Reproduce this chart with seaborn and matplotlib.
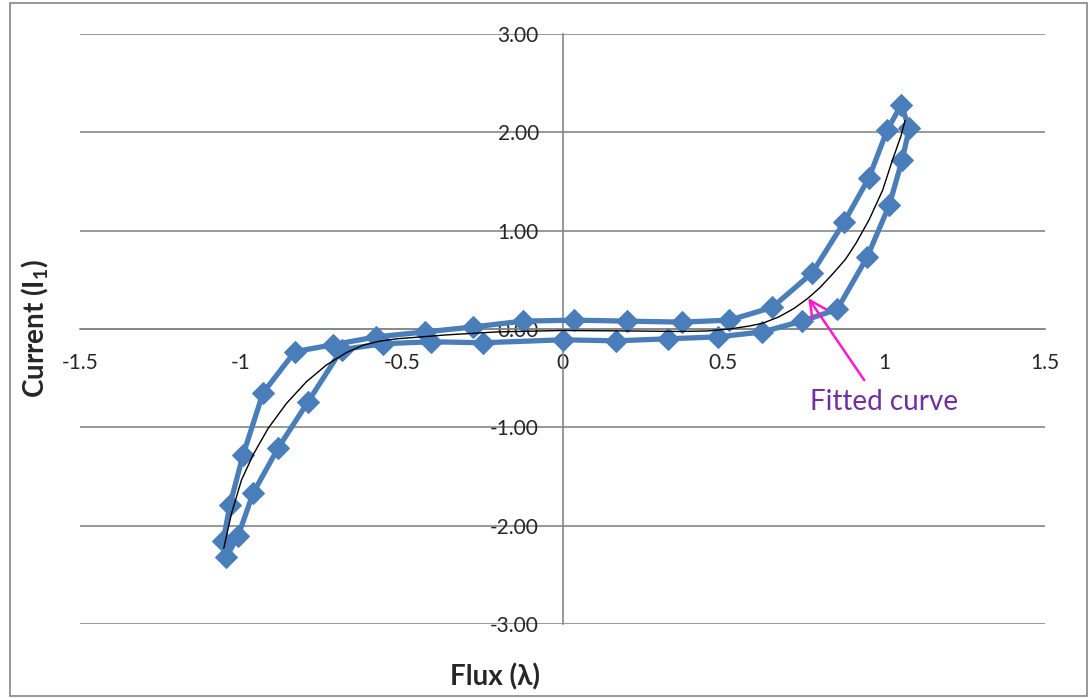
import matplotlib
matplotlib.use("Agg")
import matplotlib.pyplot as plt
import seaborn as sns
from matplotlib.patches import Rectangle

# loop data: upper branch left->right, then lower branch right->left
loop_x = [-1.055, -1.034, -0.993, -0.931, -0.832, -0.713, -0.579, -0.429, -0.279, -0.124,
          0.037, 0.202, 0.370, 0.519, 0.652, 0.776, 0.876, 0.953, 1.009, 1.053,
          1.078, 1.056, 1.016, 0.947, 0.854, 0.745, 0.621, 0.483, 0.327, 0.167,
          0.000, -0.248, -0.408, -0.558, -0.687, -0.791, -0.884, -0.962, -1.008, -1.045]
loop_y = [-2.16, -1.79, -1.28, -0.65, -0.23, -0.16, -0.08, -0.03, 0.02, 0.08,
          0.09, 0.08, 0.07, 0.09, 0.22, 0.57, 1.09, 1.54, 2.02, 2.28,
          2.04, 1.72, 1.26, 0.73, 0.20, 0.08, -0.03, -0.08, -0.10, -0.12,
          -0.11, -0.14, -0.13, -0.15, -0.21, -0.74, -1.21, -1.67, -2.10, -2.32]

# fitted curve
fit_x = [-1.053, -1.029, -0.998, -0.962, -0.915, -0.858, -0.796, -0.734, -0.672, -0.620,
         -0.570, -0.516, -0.361, -0.206, 0.0, 0.208, 0.363, 0.450, 0.519, 0.580,
         0.622, 0.674, 0.720, 0.762, 0.800, 0.840, 0.880, 0.912, 0.953, 0.995,
         1.026, 1.052, 1.065]
fit_y = [-2.23, -1.875, -1.536, -1.28, -1.01, -0.756, -0.536, -0.366, -0.24, -0.165,
         -0.125, -0.10, -0.06, -0.03, -0.015, -0.02, -0.025, -0.02, 0.0, 0.03,
         0.058, 0.125, 0.21, 0.31, 0.42, 0.56, 0.71, 0.87, 1.11, 1.41,
         1.72, 1.96, 2.12]

x_ticks = [-1.5, -1, -0.5, 0, 0.5, 1, 1.5]
x_labels = ["-1.5", "-1", "-0.5", "0", "0.5", "1", "1.5"]
y_ticks = [-3, -2, -1, 0, 1, 2, 3]
y_labels = ["-3.00", "-2.00", "-1.00", "0.00", "1.00", "2.00", "3.00"]

sns.set_style("white")
plt.rcParams["font.family"] = ["Lato", "DejaVu Sans"]
plt.rcParams["axes.unicode_minus"] = False
plt.rcParams["mathtext.fontset"] = "custom"
plt.rcParams["mathtext.rm"] = "Lato"
plt.rcParams["mathtext.bf"] = "Lato:bold"

grey = "#868686"
blue = "#4A7EBB"

fig = plt.figure(figsize=(10.9, 6.98), dpi=100)
ax = fig.add_axes([80 / 1090, 74 / 698, 965 / 1090, 590 / 698])

# gridlines under the data
for yv in y_ticks:
    ax.axhline(yv, color=grey, lw=1.2, zorder=0.5)

sns.lineplot(x=loop_x, y=loop_y, sort=False, estimator=None, ax=ax, color=blue,
             lw=3.8, marker="D", markersize=11, markeredgecolor=blue, zorder=2)
sns.lineplot(x=fit_x, y=fit_y, sort=False, estimator=None, ax=ax, color="black",
             lw=1.0, zorder=3)

ax.set_xlim(-1.5, 1.5)
ax.set_ylim(-3, 3)
ax.set_xticks(x_ticks)
ax.set_xticklabels(x_labels)
ax.set_yticks(y_ticks)
ax.set_yticklabels(y_labels)

for s in ["top", "right"]:
    ax.spines[s].set_visible(False)
ax.spines["left"].set_position(("data", 0))
ax.spines["bottom"].set_position(("data", 0))
for s in ["left", "bottom"]:
    ax.spines[s].set_color(grey)
    ax.spines[s].set_linewidth(1.2)
    ax.spines[s].set_zorder(1)

ax.tick_params(axis="x", direction="out", length=5, width=1.2, color=grey,
               pad=12, labelsize=15)
ax.tick_params(axis="y", length=0, pad=17, labelsize=15)
ax.set_xlabel("")
ax.set_ylabel("")

# annotation
ax.annotate("", xy=(0.764, 0.315), xytext=(0.938, -0.52),
            arrowprops=dict(arrowstyle="->,head_length=0.6,head_width=0.3",
                            color="#FF19CC", lw=1.8, mutation_scale=20,
                            shrinkA=0, shrinkB=0))
ax.text(1.0, -0.74, "Fitted curve", color="#7030A0", fontsize=20,
        ha="center", va="center")

fig.text(35 / 1090, 1 - 328 / 698, r"Current (I$_\mathbf{1}$)", rotation=90,
         ha="center", va="center", fontsize=20, fontweight="bold")
fig.text(495 / 1090, 1 - 677 / 698, "Flux (λ)", ha="center", va="center",
         fontsize=20, fontweight="bold", family=["Lato", "DejaVu Sans"])

fig.patches.append(Rectangle((10 / 1090, 2 / 698), 1077 / 1090, 693 / 698,
                             transform=fig.transFigure, fill=False,
                             edgecolor=grey, lw=1.2))

fig.savefig("out.png", dpi=100)
